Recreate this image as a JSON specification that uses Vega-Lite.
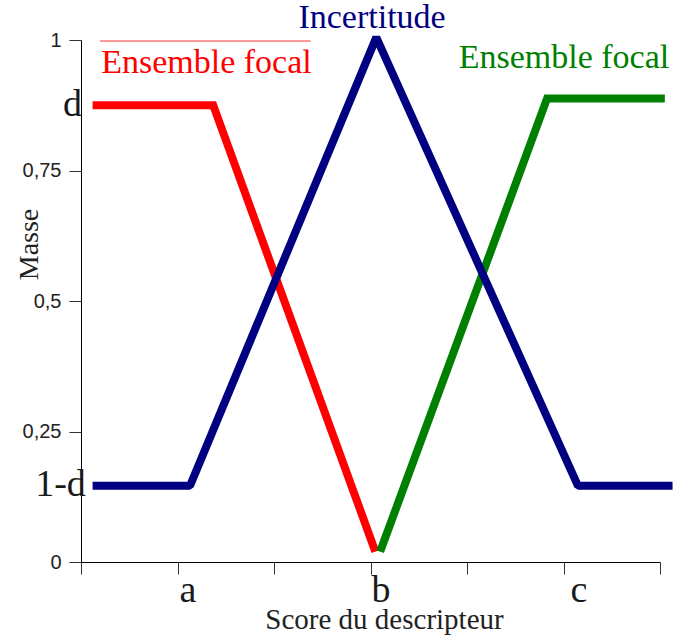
{
  "$schema": "https://vega.github.io/schema/vega-lite/v6.json",
  "width": 579,
  "height": 522,
  "autosize": {"type": "none"},
  "padding": {"left": 81, "top": 40, "right": 15, "bottom": 78},
  "background": "white",
  "config": {"view": {"stroke": null}},
  "datasets": {
    "courbes": [
      {"serie": "focal_gauche", "i": 0, "x": 0.12, "y": 0.875},
      {"serie": "focal_gauche", "i": 1, "x": 1.37, "y": 0.875},
      {"serie": "focal_gauche", "i": 2, "x": 3.05, "y": 0.02},
      {"serie": "focal_droite", "i": 0, "x": 3.1, "y": 0.02},
      {"serie": "focal_droite", "i": 1, "x": 4.83, "y": 0.888},
      {"serie": "focal_droite", "i": 2, "x": 6.05, "y": 0.888},
      {"serie": "incertitude", "i": 0, "x": 0.12, "y": 0.146},
      {"serie": "incertitude", "i": 1, "x": 1.13, "y": 0.146},
      {"serie": "incertitude", "i": 2, "x": 3.06, "y": 1.005},
      {"serie": "incertitude", "i": 3, "x": 5.15, "y": 0.146},
      {"serie": "incertitude", "i": 4, "x": 6.13, "y": 0.146}
    ],
    "titres": [
      {"texte": "Incertitude", "x": 3.016, "y": 1.023, "serie": "incertitude"},
      {"texte": "Ensemble focal", "x": 1.3, "y": 0.937, "serie": "focal_gauche"},
      {"texte": "Ensemble focal", "x": 5.005, "y": 0.946, "serie": "focal_droite"}
    ],
    "noirs": [
      {"texte": "d", "x": -0.088, "y": 0.854, "serie": "noir"},
      {"texte": "1-d", "x": -0.212, "y": 0.126, "serie": "noir"},
      {"texte": "a", "x": 1.109, "y": -0.0766, "serie": "noir"},
      {"texte": "b", "x": 3.109, "y": -0.0766, "serie": "noir"},
      {"texte": "c", "x": 5.16, "y": -0.0766, "serie": "noir"}
    ],
    "trait": [
      {"x": 0.197, "x2": 2.38, "y": 0.998, "serie": "focal_gauche"}
    ]
  },
  "layer": [
    {
      "data": {"name": "courbes"},
      "transform": [{"filter": "datum.serie == 'focal_gauche'"}],
      "mark": {"type": "line", "strokeWidth": 8, "strokeJoin": "miter"},
      "encoding": {
        "x": {
          "field": "x", "type": "quantitative",
          "scale": {"domain": [0, 6], "nice": false, "zero": false},
          "axis": {
            "values": [0, 1, 2, 3, 4, 5, 6],
            "labels": false,
            "tickSize": 12,
            "tickColor": "#333",
            "domainColor": "#000",
            "grid": false,
            "title": "Score du descripteur",
            "titleFont": "Liberation Serif",
            "titleFontSize": 29,
            "titleFontWeight": "normal",
            "titleColor": "#222",
            "titleX": 303,
            "titleY": 66,
            "titleAlign": "center",
            "titleBaseline": "alphabetic"
          }
        },
        "y": {
          "field": "y", "type": "quantitative",
          "scale": {"domain": [0, 1], "nice": false, "zero": false},
          "axis": {
            "values": [0, 0.25, 0.5, 0.75, 1],
            "tickSize": 12,
            "tickColor": "#333",
            "domainColor": "#000",
            "labelFont": "Liberation Sans",
            "labelFontSize": 20,
            "labelColor": "#222",
            "labelPadding": 8,
            "labelExpr": "replace(format(datum.value, '~g'), '.', ',')",
            "grid": false,
            "title": "Masse",
            "titleFont": "Liberation Serif",
            "titleFontSize": 28,
            "titleFontWeight": "normal",
            "titleColor": "#222",
            "titleX": -44,
            "titleY": 204,
            "titleAngle": -90,
            "titleAlign": "center",
            "titleBaseline": "alphabetic"
          }
        },
        "order": {"field": "i", "type": "quantitative"},
        "color": {
          "field": "serie", "type": "nominal",
          "scale": {"domain": ["focal_gauche", "incertitude", "focal_droite", "noir"], "range": ["#ff0000", "#000080", "#008000", "#1a1a1a"]},
          "legend": null
        }
      }
    },
    {
      "data": {"name": "courbes"},
      "transform": [{"filter": "datum.serie == 'focal_droite'"}],
      "mark": {"type": "line", "strokeWidth": 8, "strokeJoin": "miter"},
      "encoding": {
        "x": {"field": "x", "type": "quantitative"},
        "y": {"field": "y", "type": "quantitative"},
        "order": {"field": "i", "type": "quantitative"},
        "color": {"field": "serie", "type": "nominal", "legend": null}
      }
    },
    {
      "data": {"name": "courbes"},
      "transform": [{"filter": "datum.serie == 'incertitude'"}],
      "mark": {"type": "line", "strokeWidth": 8, "strokeJoin": "bevel"},
      "encoding": {
        "x": {"field": "x", "type": "quantitative"},
        "y": {"field": "y", "type": "quantitative"},
        "order": {"field": "i", "type": "quantitative"},
        "color": {"field": "serie", "type": "nominal", "legend": null}
      }
    },
    {
      "data": {"name": "trait"},
      "mark": {"type": "rule", "strokeWidth": 1, "opacity": 0.8},
      "encoding": {
        "x": {"field": "x", "type": "quantitative"},
        "x2": {"field": "x2"},
        "y": {"field": "y", "type": "quantitative"},
        "color": {"field": "serie", "type": "nominal", "legend": null}
      }
    },
    {
      "data": {"name": "titres"},
      "mark": {"type": "text", "font": "Liberation Serif", "fontSize": 34, "align": "center", "baseline": "alphabetic"},
      "encoding": {
        "x": {"field": "x", "type": "quantitative"},
        "y": {"field": "y", "type": "quantitative"},
        "text": {"field": "texte"},
        "color": {"field": "serie", "type": "nominal", "legend": null}
      }
    },
    {
      "data": {"name": "noirs"},
      "mark": {"type": "text", "font": "Liberation Serif", "fontSize": 38, "align": "center", "baseline": "alphabetic"},
      "encoding": {
        "x": {"field": "x", "type": "quantitative"},
        "y": {"field": "y", "type": "quantitative"},
        "text": {"field": "texte"},
        "color": {"field": "serie", "type": "nominal", "legend": null}
      }
    }
  ]
}
